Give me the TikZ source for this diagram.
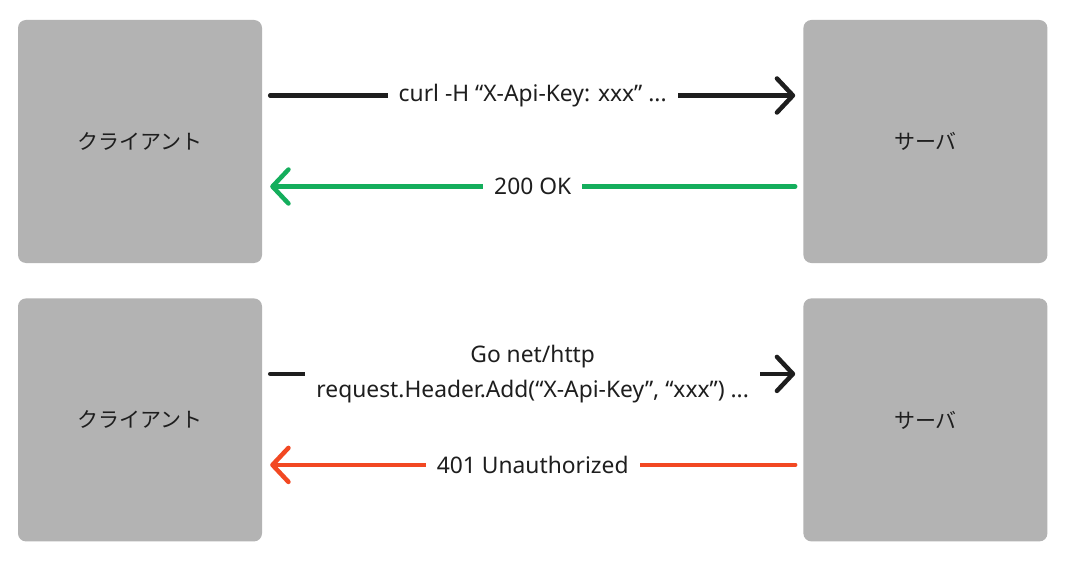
\documentclass[tikz,border=0pt]{standalone}
\usepackage{fontspec}
\setmainfont{Noto Sans}
\newfontfamily\jpfont{Noto Sans CJK JP}
\usetikzlibrary{positioning,arrows.meta}
\definecolor{boxgray}{HTML}{B3B3B3}
\definecolor{inkdark}{HTML}{1E1E1E}
\definecolor{okgreen}{HTML}{14AE5C}
\definecolor{ngred}{HTML}{F24822}
\begin{document}
\begin{tikzpicture}[x=1pt, y=-1pt,
        box/.style={fill=boxgray, rounded corners=8pt, minimum width=244pt,
            minimum height=243pt, inner sep=0pt, text=inkdark,
            font=\jpfont\fontsize{21}{25}\selectfont},
        flow/.style={line width=4.5pt, line cap=round,
            -{Straight Barb[length=16pt, width=34pt, round]}},
        msg/.style={fill=white, inner xsep=11pt, inner ysep=2pt, text=inkdark,
            align=center, font=\fontsize{22.8}{35}\selectfont},
        every node/.style={font=\fontsize{21}{25}\selectfont}]
    \fill[white] (0,0) rectangle (1075,564);
    \useasboundingbox (0,0) rectangle (1075,564);
    \node[box] (client1) at (140,141.5) {クライアント};
    \node[box, right=541pt of client1] (server1) {サーバ};
    \node[box, below=35pt of client1] (client2) {クライアント};
    \node[box, below=35pt of server1] (server2) {サーバ};
    % curl -> 200
    \draw[flow, inkdark] ([xshift=8pt, yshift=46pt]client1.east) -- ([xshift=-8pt, yshift=46pt]server1.west)
        node[msg, midway] {curl -H “X-Api-Key: xxx” ...};
    \draw[flow, okgreen] ([xshift=-8pt, yshift=-45pt]server1.west) -- ([xshift=8pt, yshift=-45pt]client1.east)
        node[msg, midway] {200 OK};
    % go -> 401
    \draw[flow, inkdark] ([xshift=8pt, yshift=46pt]client2.east) -- ([xshift=-8pt, yshift=46pt]server2.west)
        node[msg, midway] {Go net/http\\request.Header.Add(“X-Api-Key”, “xxx”) ...};
    \draw[flow, ngred] ([xshift=-8pt, yshift=-45pt]server2.west) -- ([xshift=8pt, yshift=-45pt]client2.east)
        node[msg, midway] {401 Unauthorized};
\end{tikzpicture}
\end{document}
